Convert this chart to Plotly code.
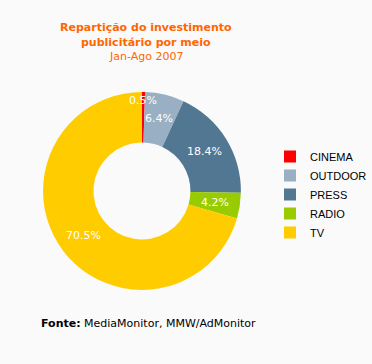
import math
import plotly.graph_objects as go

categories = ["CINEMA", "OUTDOOR", "PRESS", "RADIO", "TV"]
shares = [0.5, 6.4, 18.4, 4.2, 70.5]
colors = ["#FF0000", "#99AFC4", "#527792", "#99CC00", "#FFCC00"]

W, H = 372, 364
cx, cy, r = 143.5, 191, 100
hole = 0.49

fig = go.Figure(go.Pie(
    labels=categories,
    values=shares,
    marker=dict(colors=colors, line=dict(width=0)),
    hole=hole,
    sort=False,
    direction="clockwise",
    rotation=0,
    textinfo="none",
    hoverinfo="skip",
    domain=dict(x=[(cx - r) / W, (cx + r) / W], y=[(H - cy - r) / H, (H - cy + r) / H]),
))

# slice value labels on each slice bisector (mid-ring; very thin slices near the outer edge)
annotations = []
total = sum(shares)
cum = 0.0
for v in shares:
    mid = (cum + v / 2) / total * 2 * math.pi
    cum += v
    rr = (0.91 if v < 1 else (1 + hole) / 2) * r
    ax = cx + rr * math.sin(mid)
    ay = cy - rr * math.cos(mid)
    annotations.append(dict(text=f"{v:.1f}%", x=ax / W, y=(H - ay) / H, xref="paper", yref="paper",
                            xanchor="center", yanchor="middle", showarrow=False,
                            font=dict(family="DejaVu Sans", size=11, color="white")))

title_font = dict(family="DejaVu Sans", size=11, color="#FF6600")
annotations += [
    dict(text="<b>Repartição do investimento</b>", x=147.5 / W, y=(H - 19) / H, xref="paper", yref="paper",
         showarrow=False, font=title_font),
    dict(text="<b>publicitário por meio</b>", x=147.5 / W, y=(H - 34) / H, xref="paper", yref="paper",
         showarrow=False, font=title_font),
    dict(text="Jan-Ago 2007", x=147.5 / W, y=(H - 48) / H, xref="paper", yref="paper",
         showarrow=False, font=title_font),
    dict(text="<b>Fonte:</b> MediaMonitor, MMW/AdMonitor", x=39 / W, y=(H - 332) / H, xref="paper", yref="paper",
         xanchor="left", showarrow=False, font=dict(family="DejaVu Sans", size=11, color="#000000")),
]

fig.update_layout(
    width=W, height=H,
    margin=dict(l=0, r=0, t=0, b=0),
    paper_bgcolor="#FAFAFA",
    plot_bgcolor="#FAFAFA",
    showlegend=True,
    legend=dict(
        x=273 / W, y=(H - 142) / H, xanchor="left", yanchor="top",
        font=dict(family="Liberation Sans", size=11, color="#000000"),
        itemwidth=30, tracegroupgap=0, bgcolor="rgba(0,0,0,0)",
    ),
    annotations=annotations,
)

fig.write_html(
    "out.html",
    config={"displayModeBar": False},
    post_script="document.body.style.margin='0';document.body.style.overflow='hidden';"
                "document.documentElement.style.overflow='hidden';",
)
